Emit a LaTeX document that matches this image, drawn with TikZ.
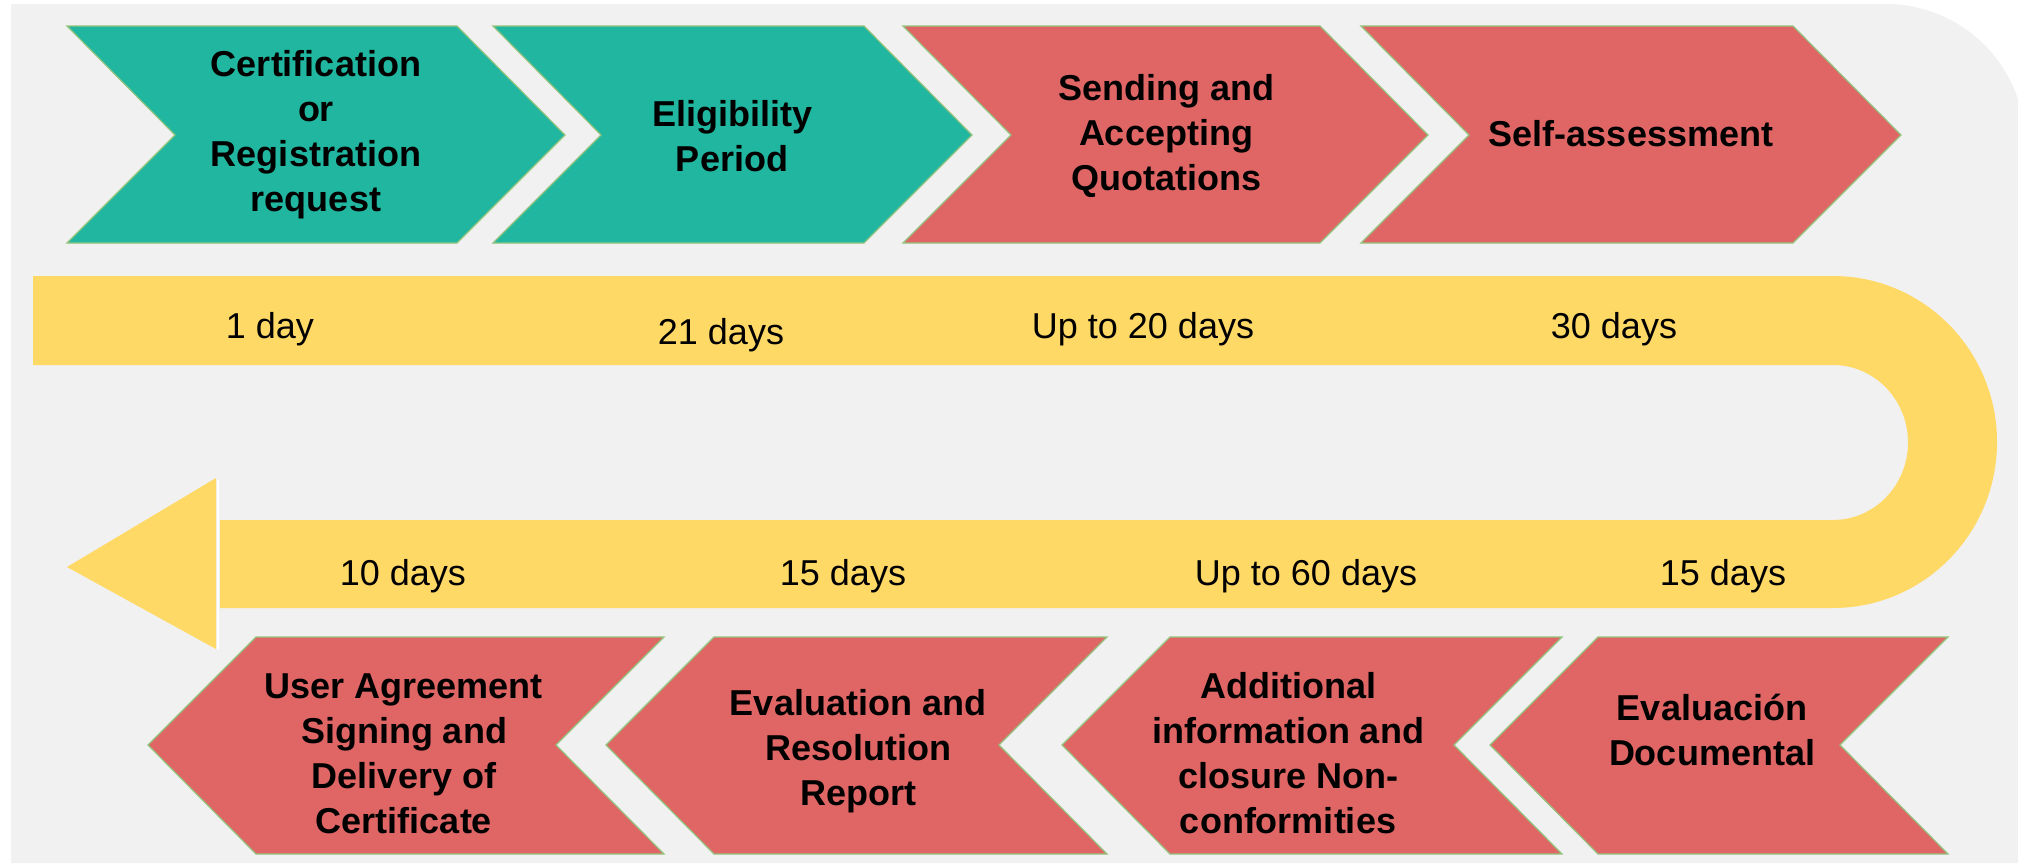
\documentclass[tikz,border=0pt]{standalone}
\usepackage{fontspec}
\setmainfont{Liberation Sans}
\definecolor{flowteal}{RGB}{33,182,159}
\definecolor{flowrose}{RGB}{224,102,102}
\definecolor{flowyellow}{RGB}{255,217,102}
\definecolor{flowgray}{RGB}{241,241,241}
\definecolor{flowedge}{RGB}{147,196,125}
\tikzstyle{stepshape}=[draw=flowedge,line width=0.6pt]
\tikzstyle{steplabel}=[align=center,font=\fontsize{18}{22.5}\selectfont\bfseries]
\tikzstyle{daylabel}=[anchor=base,font=\fontsize{18}{22.5}\selectfont]

\begin{document}
\begin{tikzpicture}[x=0.5pt,y=-0.5pt]
    \useasboundingbox (0,0) rectangle (2018,863);
    % panel
    \fill[flowgray] (11,863) -- (11,4) -- (1886,4) arc[start angle=-90,end angle=0,radius=139] -- (2025,863) -- cycle;

    % the road, with its turn and arrow head
    \fill[flowyellow] (33,276) -- (1833,276)
      arc[start angle=-90,end angle=90,x radius=164,y radius=166]
      -- (220,608) -- (220,520) -- (1833,520)
      arc[start angle=90,end angle=-90,x radius=75,y radius=77.5]
      -- (33,365) -- cycle;
    \fill[flowyellow] (67,567) -- (216,478) -- (216,649) -- cycle;
    \draw[white,line width=0.6pt] (218,480) -- (218,649);

    % top row
    \foreach \l/\r/\c in {67/457/flowteal,493/864/flowteal,903/1320/flowrose,1361/1793/flowrose}{
      \filldraw[stepshape,fill=\c] (\l,26) -- (\r,26) -- (\r+108,135) -- (\r,243) -- (\l,243) -- (\l+108,135) -- cycle;
    }
    % bottom row
    \foreach \t/\r in {148/664,606/1107,1062/1562,1490/1948}{
      \filldraw[stepshape,fill=flowrose] (\t,745) -- (\t+108,637) -- (\r,637) -- (\r-108,745) -- (\r,854) -- (\t+108,854) -- cycle;
    }

    \node[steplabel] (request) at (316,135) {Certification\\or\\Registration\\request};
    \node[steplabel] (eligibility) at (732,136) {Eligibility\\Period};
    \node[steplabel] (quotations) at (1166,136) {Sending and\\Accepting\\Quotations};
    \node[steplabel] (selfcheck) at (1631,134) {Self-assessment};
    \node[steplabel] (agreement) at (404,754) {User Agreement\\Signing and\\Delivery of\\Certificate};
    \node[steplabel] (resolution) at (858,751) {Evaluation and\\Resolution\\Report};
    \node[steplabel] (closure) at (1288,753) {Additional\\information and\\closure Non-\\conformities};
    \node[steplabel] (documental) at (1712,730) {Evaluación\\Documental};

    \node[daylabel] (days1) at (270,338) {1 day};
    \node[daylabel] (days2) at (721,344) {21 days};
    \node[daylabel] (days3) at (1143,338) {Up to 20 days};
    \node[daylabel] (days4) at (1614,338) {30 days};
    \node[daylabel] (days5) at (403,585) {10 days};
    \node[daylabel] (days6) at (843,585) {15 days};
    \node[daylabel] (days7) at (1306,585) {Up to 60 days};
    \node[daylabel] (days8) at (1723,585) {15 days};
\end{tikzpicture}
\end{document}
